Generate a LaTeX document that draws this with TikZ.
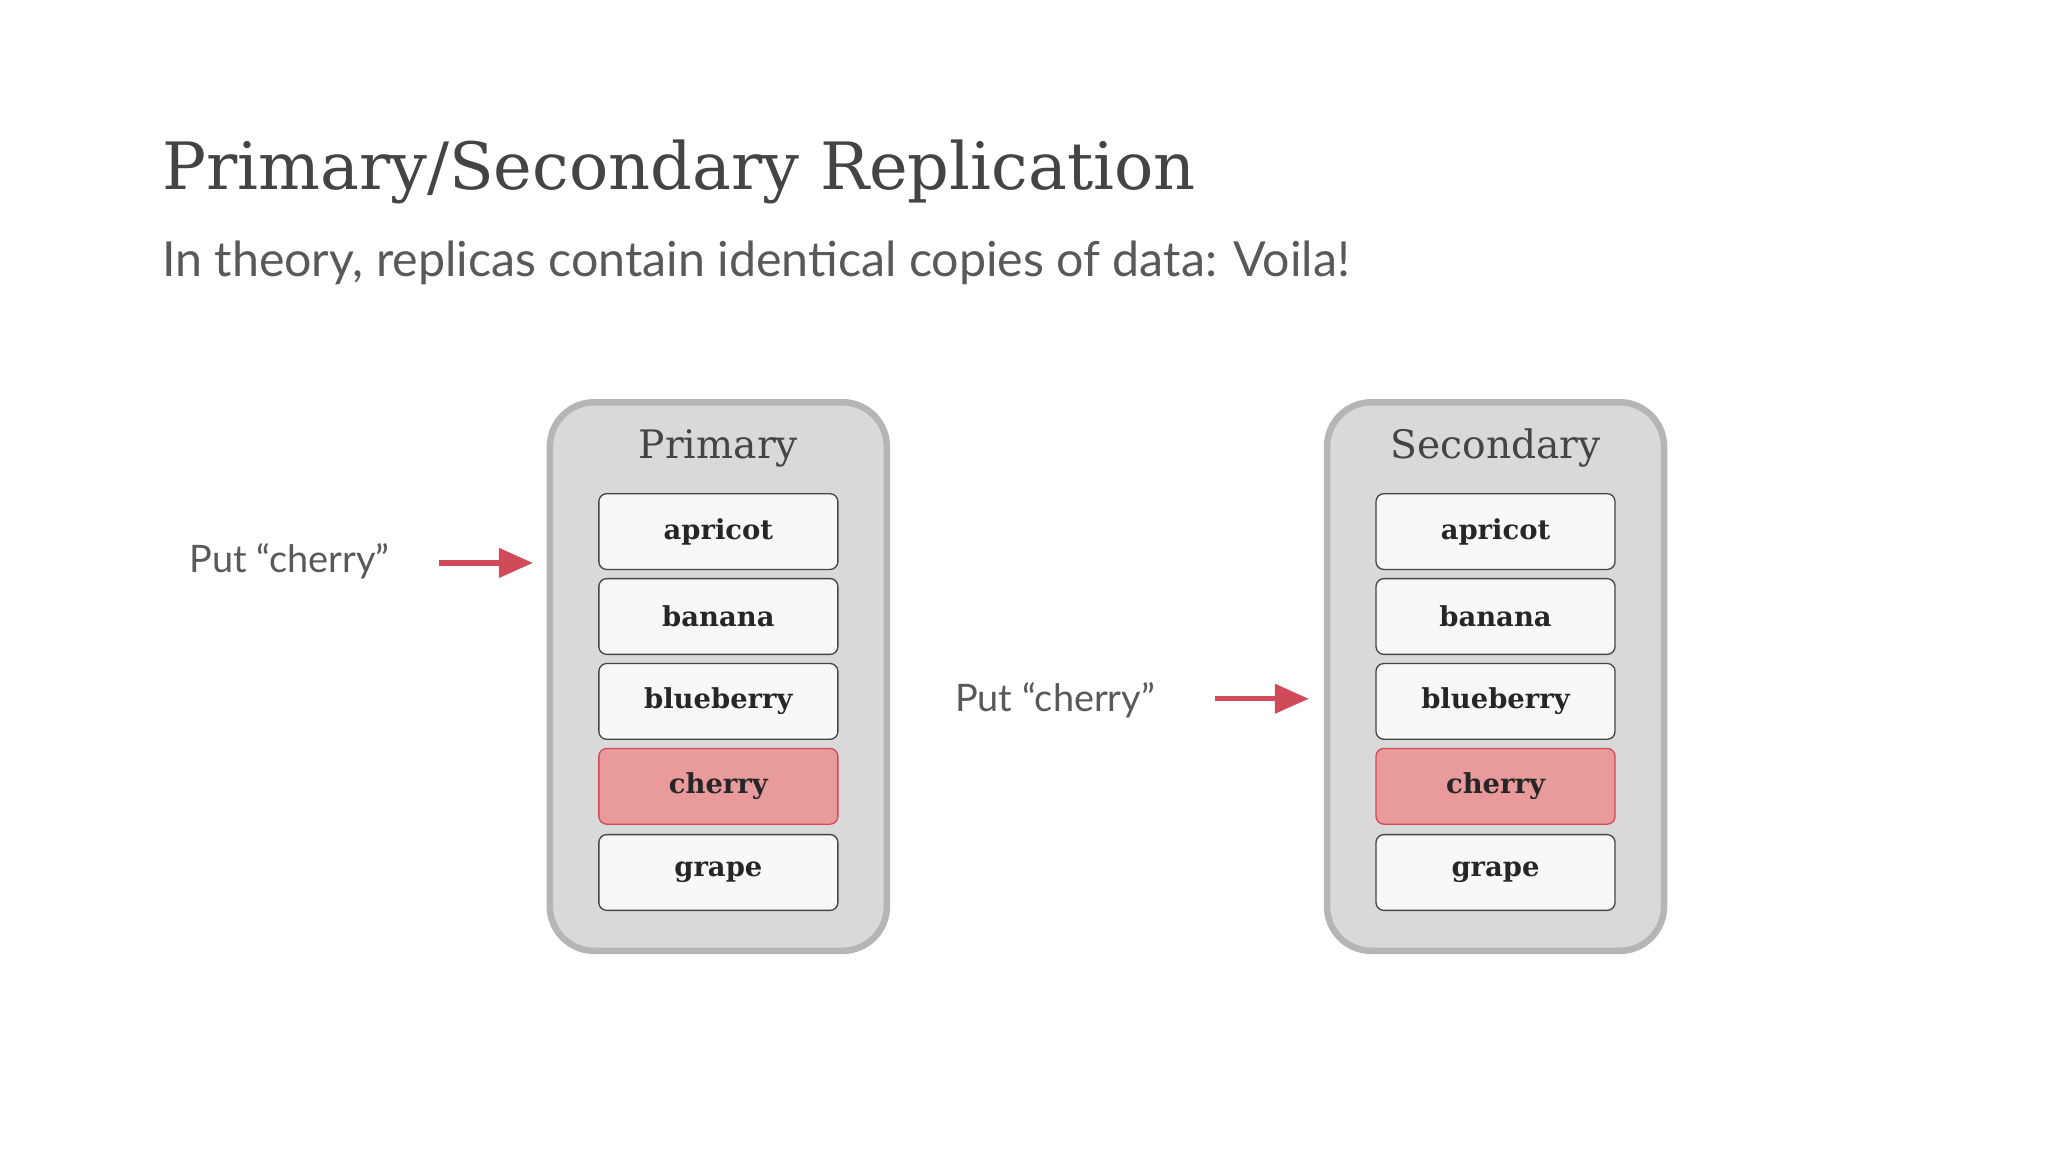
\documentclass[tikz,border=0pt]{standalone}
\usepackage{fontspec}
\setmainfont{DejaVu Serif}
\newfontfamily\subfont{Lato}
\usetikzlibrary{arrows.meta}
\definecolor{cont}{HTML}{D9D9D9}
\definecolor{contb}{HTML}{B5B5B5}
\definecolor{itemf}{HTML}{F8F8F8}
\definecolor{itemb}{HTML}{444444}
\definecolor{cherf}{HTML}{E99A9B}
\definecolor{cherb}{HTML}{D04A5A}
\definecolor{txt}{HTML}{444444}
\definecolor{subt}{HTML}{595959}
\tikzset{
 container/.style={draw=contb,line width=5pt,fill=cont,rounded corners=34pt,minimum width=258pt,minimum height=420pt,inner sep=0pt},
 item/.style={draw=itemb,line width=1pt,fill=itemf,rounded corners=6pt,minimum width=183pt,minimum height=58pt,inner sep=0pt,font=\fontsize{21}{24}\selectfont\bfseries,text=black!85},
 hot/.style={item,fill=cherf,draw=cherb},
 put/.style={font=\subfont\fontsize{29}{32}\selectfont,text=subt,anchor=base west,inner sep=0pt},
 arr/.style={draw=cherb,line width=4pt,-{Triangle[length=26pt,width=22pt]}},
 clabel/.style={font=\fontsize{30}{34}\selectfont,text=txt,inner sep=0pt,anchor=base}
}
\begin{document}
\begin{tikzpicture}[x=1pt,y=-1pt]
\useasboundingbox (0,0) rectangle (1568,882);
\fill[white] (0,0) rectangle (1568,882);
\node[anchor=base west,inner sep=0pt,text=txt,font=\fontsize{50}{56}\selectfont] (title) at (124,145) {Primary/Secondary Replication};
\node[anchor=base west,inner sep=0pt,text=subt,font=\subfont\fontsize{37}{42}\selectfont] (sub) at (124,212) {In theory, replicas contain identical copies of data: Voila!};
\foreach \nm/\cx/\lab in {p/550/Primary,s/1145/Secondary}{
 \node[container] (\nm box) at (\cx,518) {};
 \node[clabel] (\nm lab) at (\cx,351) {\lab};
 \node[item] (\nm 1) at (\cx,407) {apricot};
 \node[item] (\nm 2) at (\cx,472) {banana};
 \node[item] (\nm 3) at (\cx,537) {blueberry};
 \node[hot] (\nm 4) at (\cx,602) {cherry};
 \node[item] (\nm 5) at (\cx,668) {grape};
}
\node[put] (put1) at (145,438) {Put “cherry”};
\node[put] (put2) at (731,545) {Put “cherry”};
\coordinate (a1s) at (336,431); \coordinate (a1e) at (408,431);
\coordinate (a2s) at (930,535); \coordinate (a2e) at (1002,535);
\draw[arr] (a1s) -- (a1e);
\draw[arr] (a2s) -- (a2e);
\end{tikzpicture}
\end{document}
